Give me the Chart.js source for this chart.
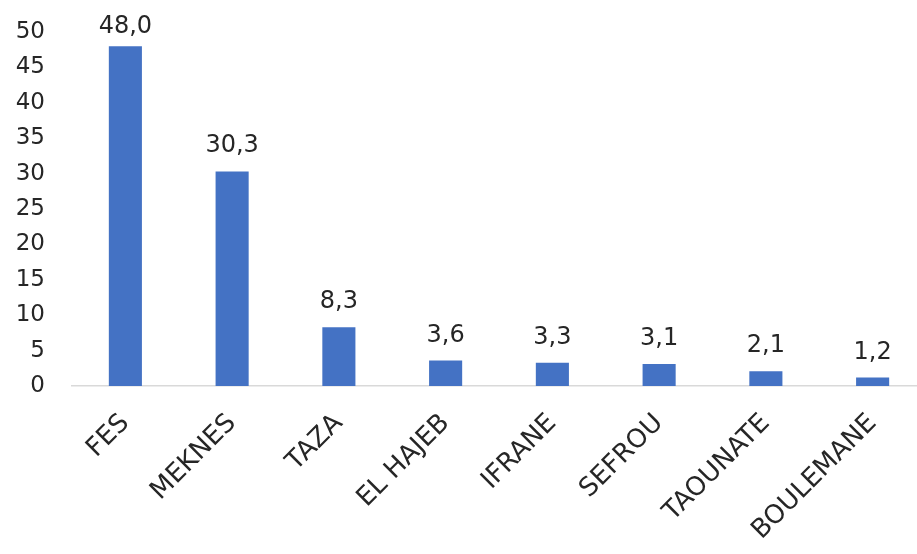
<!DOCTYPE html>
<html>
<head>
<meta charset="utf-8">
<script src="https://cdn.jsdelivr.net/npm/chart.js@4"></script>
<style>
  html, body { margin: 0; padding: 0; background: #fff; overflow: hidden; }
  #wrap { width: 926px; height: 554px; }
</style>
</head>
<body>
<div id="wrap"><canvas id="chart" width="926" height="554"></canvas></div>
<script>
// Data
const provinces = ["FES", "MEKNES", "TAZA", "EL HAJEB", "IFRANE", "SEFROU", "TAOUNATE", "BOULEMANE"];
const shares = [48.0, 30.3, 8.3, 3.6, 3.3, 3.1, 2.1, 1.2];

const textColor = "#262626";
const barColor = "#4472C4";
const fontFamily = "'DejaVu Sans', sans-serif";

// Draws the value above each bar, with a decimal comma
const valueLabels = {
  id: "valueLabels",
  afterDatasetsDraw(chart) {
    const ctx = chart.ctx;
    const meta = chart.getDatasetMeta(0);
    ctx.save();
    ctx.font = "24px " + fontFamily;
    ctx.fillStyle = textColor;
    ctx.textAlign = "center";
    ctx.textBaseline = "alphabetic";
    meta.data.forEach((bar, i) => {
      const txt = shares[i].toFixed(1).replace(".", ",");
      const y = Math.max(bar.y - 19, 33); // keep the top label inside the picture
      ctx.fillText(txt, bar.x, y);
    });
    ctx.restore();
  },
};

new Chart(document.getElementById("chart"), {
  type: "bar",
  data: {
    labels: provinces,
    datasets: [
      {
        data: shares,
        backgroundColor: barColor,
        borderWidth: 0,
        categoryPercentage: 1,
        barPercentage: 0.31,
      },
    ],
  },
  options: {
    responsive: false,
    animation: false,
    layout: { padding: 0 },
    plugins: {
      legend: { display: false },
      tooltip: { enabled: false },
    },
    scales: {
      x: {
        grid: { display: false, drawTicks: false },
        border: { display: true, color: "#d9d9d9", width: 1.5 },
        ticks: {
          color: textColor,
          font: { family: fontFamily, size: 26 },
          minRotation: 45,
          maxRotation: 45,
          padding: 22,
          autoSkip: false,
        },
        afterFit(scale) {
          scale.height = 168;
        },
      },
      y: {
        min: 0,
        max: 50,
        grid: { display: false, drawTicks: false },
        border: { display: false },
        ticks: {
          stepSize: 5,
          color: textColor,
          font: { family: fontFamily, size: 23 },
          padding: 27,
        },
        afterFit(scale) {
          scale.width = 72;
          scale.paddingTop = 32; // top of the plot sits at the "50" label
        },
      },
    },
  },
  plugins: [valueLabels],
});
</script>
</body>
</html>
